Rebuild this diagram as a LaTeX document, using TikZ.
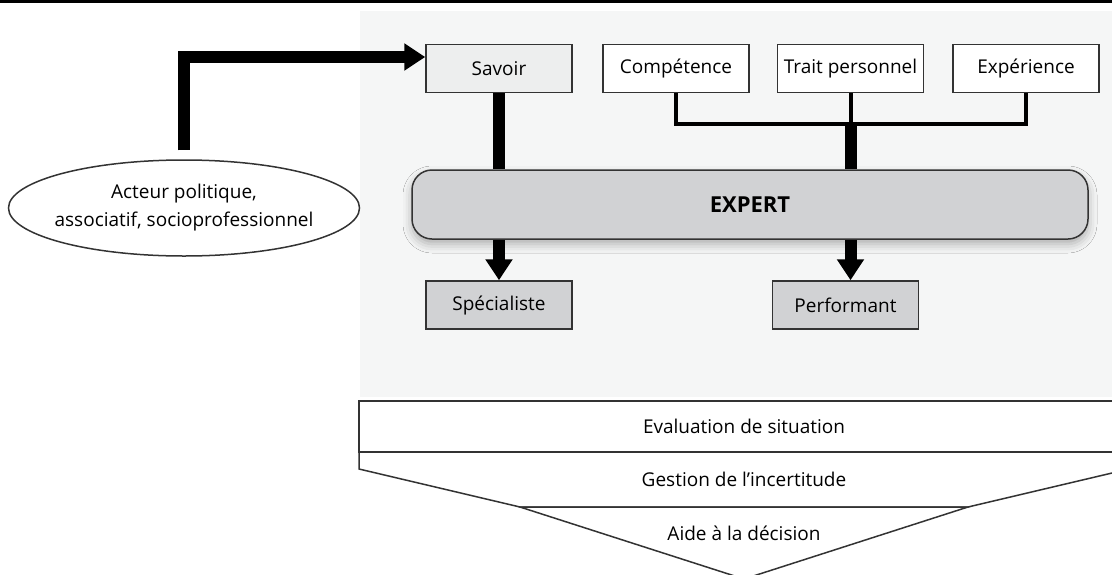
\documentclass[tikz,border=0pt]{standalone}
\usepackage{fontspec}
\setmainfont{Open Sans}
\usepackage{tikz}
\usetikzlibrary{arrows.meta}
\usetikzlibrary{positioning,shapes,shadows.blur}
\definecolor{panelgray}{HTML}{F5F6F6}
\definecolor{savoirgray}{HTML}{EDEEEE}
\definecolor{expertgray}{HTML}{D1D2D4}
\definecolor{edgegray}{HTML}{333333}
\tikzset{
    box/.style={
        draw=edgegray,
        fill=white,
        line width=1.5pt,
        minimum width=146pt,
        minimum height=48pt,
        inner sep=0pt,
        font=\fontsize{19}{23}\selectfont
    },
    label text/.style={
        inner sep=0pt,
        font=\fontsize{19}{23}\selectfont
    },
    band/.style={
        draw=edgegray,
        fill=white,
        line width=1.5pt
    },
    bigline/.style={
        draw,
        line width=12pt
    },
    bigarrow/.style={
        bigline,
        -{Triangle[length=21pt, width=26pt]}
    },
    thinline/.style={
        draw,
        line width=4pt
    }
}

\begin{document}
\begin{tikzpicture}[x=1pt, y=-1pt, line join=miter]
    \clip (0,0) rectangle (1112,574);
    \useasboundingbox (0,0) rectangle (1112,574);
    % Background
    \fill[white] (0,0) rectangle (1112,574);
    \draw[line width=3pt] (0,1.5) -- (1112,1.5);
    \fill[panelgray] (360,11) rectangle (1112,397);

    % Nodes
    \node[box, fill=savoirgray] (savoir) at (499,68.5) {Savoir};
    \node[box] (comp) at (676,68.5) {Compétence};
    \node[box] (trait) at (850.5,68.5) {Trait personnel};
    \node[box] (exper) at (1026,68.5) {Expérience};
    \node[box, rounded corners=20pt, fill=expertgray,
        minimum width=676pt, minimum height=69pt,
        blur shadow={shadow xshift=0pt, shadow yshift=-5pt,
            shadow blur radius=9pt, shadow opacity=30},
        font=\fontsize{22}{26}\selectfont\bfseries] (expert) at (750,204.5) {EXPERT};
    \node[box, fill=expertgray] (spec) at (499,305) {Spécialiste};
    \node[box, fill=expertgray] (perf) at (845.5,305) {Performant};
    \node[ellipse, draw=edgegray, line width=1.5pt, fill=white,
        minimum width=351pt, minimum height=96pt, inner xsep=-10pt, inner ysep=0pt,
        align=center, font=\fontsize{19}{28}\selectfont] (acteur) at (184,208)
        {Acteur politique,\\associatif, socioprofessionnel};

    % Edges
    \coordinate (joint) at (850.5,124);
    \draw[bigarrow] (acteur.north) ++(0,-9) |- ([yshift=11.5pt]savoir.west);
    \draw[bigline] (savoir.south) -- (savoir |- expert.north);
    \draw[bigarrow] (spec |- expert.south) -- (spec.north);
    \draw[thinline] (comp.south) |- (joint) -| (exper.south);
    \draw[thinline] (trait.south) -- (joint);
    \draw[bigline] (joint) -- (joint |- expert.north);
    \draw[bigarrow] (joint |- expert.south) -- (joint |- perf.north);

    % Funnel
    \draw[band] (359,452) -- (359,469) -- (520,507) -- (968,507)
        -- (1129,469) -- (1129,452) -- cycle;
    \draw[band] (520,507) -- (744,579) -- (968,507) -- cycle;
    \draw[band] (359,401) rectangle (1129,452);
    \node[label text] (eval) at (744,426) {Evaluation de situation};
    \node[label text] (gestion) at (744,479) {Gestion de l’incertitude};
    \node[label text] (aide) at (744,533) {Aide à la décision};
\end{tikzpicture}
\end{document}
